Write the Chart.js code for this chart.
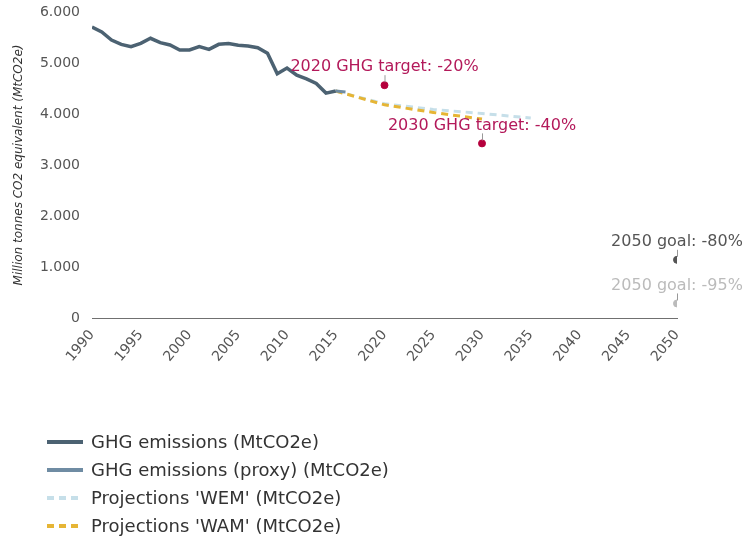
<!DOCTYPE html>
<html>
<head>
<meta charset="utf-8">
<script src="https://cdn.jsdelivr.net/npm/chart.js@4.4.1/dist/chart.umd.min.js"></script>
<style>
  html, body { margin: 0; padding: 0; background: #fff; }
</style>
</head>
<body>
<canvas id="grafico" width="745" height="548"></canvas>
<script>
// historic emissions, MtCO2e
const anosHist = [1990, 1991, 1992, 1993, 1994, 1995, 1996, 1997, 1998, 1999, 2000, 2001, 2002,
  2003, 2004, 2005, 2006, 2007, 2008, 2009, 2010, 2011, 2012, 2013, 2014, 2015];
const emissoes = [5706, 5608, 5451, 5366, 5320, 5386, 5484, 5398, 5353, 5255, 5255, 5320, 5268,
  5366, 5380, 5347, 5333, 5300, 5190, 4790, 4900, 4760, 4690, 4600, 4410, 4450];

const anosProxy = [2015, 2016];
const emissoesProxy = [4450, 4430];

const anosWEM = [2015, 2020, 2025, 2030, 2035];
const projWEM = [4450, 4200, 4090, 4010, 3920];

const anosWAM = [2015, 2020, 2025, 2030];
const projWAM = [4450, 4180, 4030, 3900];

// targets and goals
const metaAnos = [2020, 2030, 2050, 2050];
const metaValores = [4565, 3424, 1141, 285];
const metaTextos = ["2020 GHG target: -20%", "2030 GHG target: -40%", "2050 goal: -80%", "2050 goal: -95%"];
const metaCores = ["#b5003c", "#b5003c", "#555555", "#bbbbbb"];
const metaCoresTexto = ["#b3195a", "#b3195a", "#555555", "#bbbbbb"];

const ticksY = [0, 1000, 2000, 3000, 4000, 5000, 6000];

const fonte = "'DejaVu Sans', Verdana, sans-serif";

function pares(xs, ys) {
  return xs.map((x, i) => ({ x: x, y: ys[i] }));
}

function formataMilhar(v) {
  return String(v).replace(/\B(?=(\d{3})+(?!\d))/g, ".");
}

const legendaPlugin = {
  id: "legendaVertical",
  afterDraw(chart) {
    const ctx = chart.ctx;
    ctx.save();
    ctx.font = "18px " + fonte;
    ctx.textBaseline = "middle";
    ctx.textAlign = "left";
    for (let i = 0; i < 4; i++) {
      const ds = chart.data.datasets[i];
      const y = 442 + i * 28;
      ctx.beginPath();
      ctx.strokeStyle = ds.borderColor;
      ctx.lineWidth = 4;
      ctx.setLineDash(ds.borderDash && ds.borderDash.length ? [7, 5] : []);
      ctx.moveTo(47, y);
      ctx.lineTo(83, y);
      ctx.stroke();
      ctx.setLineDash([]);
      ctx.fillStyle = "#333333";
      ctx.fillText(ds.label, 91, y + 1);
    }
    ctx.restore();
  }
};

const metasPlugin = {
  id: "rotulosMetas",
  afterDatasetsDraw(chart) {
    const ctx = chart.ctx;
    const sx = chart.scales.x;
    const sy = chart.scales.y;
    ctx.save();
    ctx.font = "16px " + fonte;
    ctx.textAlign = "center";
    ctx.textBaseline = "middle";
    metaAnos.forEach((ano, i) => {
      const px = sx.getPixelForValue(ano);
      const py = sy.getPixelForValue(metaValores[i]);
      ctx.beginPath();
      ctx.strokeStyle = "#999999";
      ctx.lineWidth = 1;
      ctx.moveTo(px + 0.5, py - 10);
      ctx.lineTo(px + 0.5, py - 3);
      ctx.stroke();
      ctx.fillStyle = metaCoresTexto[i];
      ctx.fillText(metaTextos[i], px, py - 18);
    });
    ctx.restore();
  }
};

const grafico = new Chart(document.getElementById("grafico"), {
  type: "line",
  data: {
    datasets: [
      {
        label: "GHG emissions (MtCO2e)",
        data: pares(anosHist, emissoes),
        borderColor: "#4c6272",
        borderWidth: 3.5,
        pointRadius: 0,
        tension: 0,
        order: 1
      },
      {
        label: "GHG emissions (proxy) (MtCO2e)",
        data: pares(anosProxy, emissoesProxy),
        borderColor: "#6f8ca3",
        borderWidth: 3,
        pointRadius: 0,
        order: 2
      },
      {
        label: "Projections 'WEM' (MtCO2e)",
        data: pares(anosWEM, projWEM),
        borderColor: "#c6dfe9",
        borderWidth: 3,
        borderDash: [7, 5],
        pointRadius: 0,
        order: 4
      },
      {
        label: "Projections 'WAM' (MtCO2e)",
        data: pares(anosWAM, projWAM),
        borderColor: "#e6b535",
        borderWidth: 3,
        borderDash: [7, 5],
        pointRadius: 0,
        order: 3
      },
      {
        label: "metas",
        type: "scatter",
        data: pares(metaAnos, metaValores),
        pointBackgroundColor: metaCores,
        pointBorderColor: metaCores,
        pointRadius: 3.5,
        order: 0
      }
    ]
  },
  options: {
    responsive: false,
    animation: false,
    layout: { padding: { left: 0, right: 68, top: 12, bottom: 170 } },
    plugins: {
      legend: { display: false },
      tooltip: { enabled: false }
    },
    scales: {
      x: {
        type: "linear",
        min: 1990,
        max: 2050,
        grid: { display: false, drawTicks: false },
        border: { display: true, color: "#707070", width: 1 },
        ticks: {
          stepSize: 5,
          color: "#555555",
          font: { family: fonte, size: 14 },
          minRotation: 50,
          maxRotation: 50,
          padding: 9,
          callback: (v) => String(v)
        },
        afterFit: (escala) => { escala.height = 60; }
      },
      y: {
        min: 0,
        max: 6000,
        grid: { display: false, drawTicks: false },
        border: { display: false },
        afterBuildTicks: (escala) => {
          escala.ticks = ticksY.map((v) => ({ value: v }));
        },
        ticks: {
          color: "#555555",
          font: { family: fonte, size: 14 },
          padding: 12,
          callback: (v) => formataMilhar(v)
        },
        title: {
          display: true,
          text: "Million tonnes CO2 equivalent (MtCO2e)",
          color: "#333333",
          font: { family: fonte, size: 12, style: "italic" },
          padding: { top: 12, bottom: 0 }
        },
        afterFit: (escala) => {
          escala.width = 92;
          escala.paddingTop = 8;
        }
      }
    }
  },
  plugins: [metasPlugin, legendaPlugin]
});
</script>
</body>
</html>
